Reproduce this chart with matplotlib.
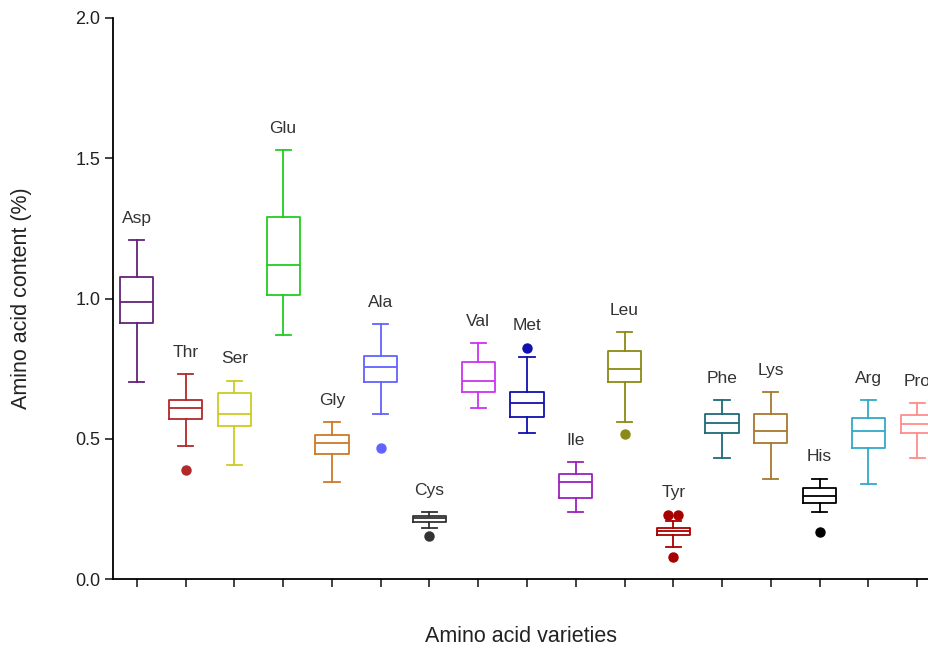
import numpy as np
import matplotlib
matplotlib.use('Agg')
from matplotlib import pyplot as plt

names = ['Asp', 'Thr', 'Ser', 'Glu', 'Gly', 'Ala', 'Cys', 'Val', 'Met',
         'Ile', 'Leu', 'Tyr', 'Phe', 'Lys', 'His', 'Arg', 'Pro']
whislo = [0.701, 0.474, 0.406, 0.869, 0.346, 0.587, 0.181, 0.611, 0.519,
          0.239, 0.559, 0.114, 0.430, 0.357, 0.238, 0.339, 0.430]
q1 = [0.914, 0.570, 0.547, 1.012, 0.447, 0.701, 0.204, 0.667, 0.576,
      0.288, 0.702, 0.156, 0.519, 0.486, 0.271, 0.468, 0.519]
med = [0.989, 0.610, 0.588, 1.118, 0.486, 0.756, 0.216, 0.707, 0.626,
       0.345, 0.750, 0.170, 0.555, 0.528, 0.296, 0.527, 0.553]
q3 = [1.078, 0.638, 0.662, 1.292, 0.515, 0.795, 0.226, 0.774, 0.667,
      0.375, 0.812, 0.182, 0.587, 0.588, 0.323, 0.575, 0.585]
whishi = [1.208, 0.730, 0.706, 1.528, 0.559, 0.909, 0.238, 0.841, 0.790,
          0.417, 0.879, 0.206, 0.637, 0.666, 0.357, 0.637, 0.627]
fliers = [[], [0.389], [], [], [], [0.466], [0.153], [], [0.825],
          [], [0.517], [0.229, 0.229, 0.077], [], [], [0.166], [], []]
colors = ['#62237a', '#b02a2a', '#cccc22', '#22cc22', '#cc7a26', '#6262ff',
          '#333333', '#cc33ee', '#1010b0', '#9a22bb', '#8a8a14', '#a80000',
          '#1f6a7a', '#a87830', '#000000', '#30aac8', '#ff8c8c']

plt.rcParams['font.family'] = ['Liberation Sans', 'DejaVu Sans']

fig = plt.figure(figsize=(9.29, 6.54), dpi=100)
ax = fig.add_axes([113 / 929, 75 / 654, 847 / 929, 561 / 654])

pos = np.arange(1, len(names) + 1)
stats = [dict(whislo=a, q1=b, med=c, q3=d, whishi=e, fliers=[])
         for a, b, c, d, e in zip(whislo, q1, med, q3, whishi)]
art = ax.bxp(stats, positions=pos, widths=0.68, capwidths=0.31,
             showfliers=False, patch_artist=False)

for i, col in enumerate(colors):
    art['boxes'][i].set(color=col, linewidth=1.3)
    art['medians'][i].set(color=col, linewidth=1.3)
    for k in (2 * i, 2 * i + 1):
        art['whiskers'][k].set(color=col, linewidth=1.3)
        art['caps'][k].set(color=col, linewidth=1.3)
    fl = np.array(fliers[i])
    if len(fl):
        xs = np.full(len(fl), pos[i], dtype=float)
        vals, counts = np.unique(fl, return_counts=True)
        for v, c in zip(vals, counts):
            if c > 1:
                idx = np.where(fl == v)[0]
                xs[idx] = pos[i] + np.linspace(-0.1, 0.1, c)
        ax.plot(xs, fl, 'o', color=col, markersize=6.5, zorder=3)
    top = max([whishi[i]] + fliers[i])
    ax.annotate(names[i], (pos[i], top), xytext=(0, 22),
                textcoords='offset pixels', ha='center', va='center',
                fontsize=12.5, color='#333333')

ax.set_xlim(0.51, 17.88)
ax.set_ylim(0, 2.0)
ax.set_yticks([0, 0.5, 1.0, 1.5, 2.0])
ax.set_yticklabels(['0.0', '0.5', '1.0', '1.5', '2.0'])
ax.set_xticks(pos)
ax.set_xticklabels([])
ax.tick_params(axis='both', direction='out', length=6, width=1.2,
               labelsize=13, colors='#222222', pad=3)
ax.spines['top'].set_visible(False)
ax.spines['right'].set_visible(False)
ax.spines['left'].set_linewidth(1.3)
ax.spines['bottom'].set_linewidth(1.3)

fig.text(22 / 929, 1 - 298 / 654, 'Amino acid content (%)', rotation=90,
         ha='center', va='center', fontsize=15.5, color='#222222')
fig.text(521 / 929, 1 - 637 / 654, 'Amino acid varieties', ha='center',
         va='center', fontsize=15.5, color='#222222')

fig.savefig('out.png', dpi=100)
